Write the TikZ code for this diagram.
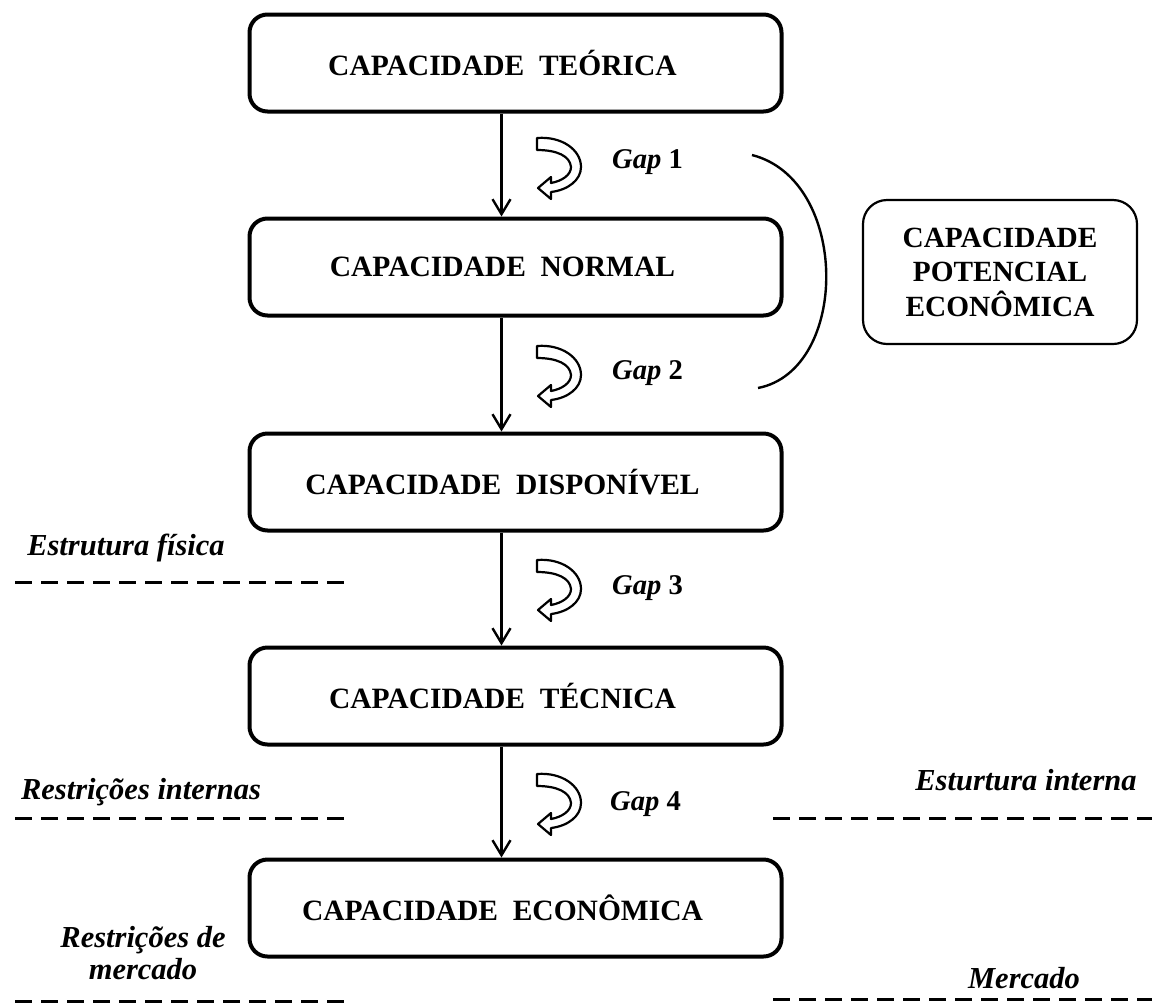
\documentclass[tikz,border=0pt]{standalone}
\usepackage{fontspec}
\setmainfont{Liberation Serif}
\usetikzlibrary{arrows.meta,calc}
\tikzset{
  capbox/.style={draw, line width=4pt, rounded corners=18pt, minimum width=532pt, minimum height=97pt, font=\bfseries\fontsize{29.5}{34}\selectfont, inner sep=0pt},
  potbox/.style={draw, line width=2.2pt, rounded corners=24pt, minimum width=274pt, minimum height=144pt, font=\bfseries\fontsize{29.3}{34.5}\selectfont, align=center, inner sep=0pt},
  flow/.style={line width=2.4pt, -{Straight Barb[length=15pt,width=18pt,line width=2.4pt]}},
  gaplbl/.style={font=\bfseries\fontsize{28.6}{32}\selectfont, anchor=west, inner sep=0pt},
  sidelbl/.style={font=\bfseries\itshape\fontsize{30.5}{32}\selectfont, inner sep=0pt},
  sep/.style={line width=3pt, dash pattern=on 17pt off 9pt},
  turn/.style={draw, line width=2.2pt, fill=white, line join=round}
}
\newcommand{\turnicon}[1]{%
  \begin{scope}[shift={#1}]
    \draw[turn] (0,0) .. controls (25,-2) and (44,12) .. (44,29)
      .. controls (44,42) and (31,52) .. (14,54) -- (14,61) -- (1,50) -- (14,39) -- (14,45)
      .. controls (25,43) and (34,37) .. (34,29)
      .. controls (33,18) and (20,12) .. (0,12) -- cycle;
  \end{scope}}
\newcommand{\boxtxtshift}{\kern26pt}
\begin{document}
\begin{tikzpicture}[x=1pt,y=-1pt]
\useasboundingbox (0,0) rectangle (1152,1005);
% main boxes
\node[capbox] (t1) at (515.5,63) {CAPACIDADE\ \ TEÓRICA\boxtxtshift};
\node[capbox] (t2) at (515.5,267) {CAPACIDADE\ \ NORMAL\boxtxtshift};
\node[capbox] (t3) at (515.5,482) {CAPACIDADE\ \ DISPONÍVEL\boxtxtshift};
\node[capbox] (t4) at (515.5,696) {CAPACIDADE\ \ TÉCNICA\boxtxtshift};
\node[capbox] (t5) at (515.5,908) {CAPACIDADE\ \ ECONÔMICA\boxtxtshift};
% arrows
\draw[flow] ([xshift=-14pt]t1.south) -- ([xshift=-14pt]t2.north);
\draw[flow] ([xshift=-14pt]t2.south) -- ([xshift=-14pt]t3.north);
\draw[flow] ([xshift=-14pt]t3.south) -- ([xshift=-14pt]t4.north);
\draw[flow] ([xshift=-14pt]t4.south) -- ([xshift=-14pt]t5.north);
% turn icons
\turnicon{(537,138)}
\turnicon{(537,346)}
\turnicon{(537,560)}
\turnicon{(537,774)}
% gap labels
\node[gaplbl] (g1) at (612,162) {\textit{Gap} 1};
\node[gaplbl] (g2) at (612,373) {\textit{Gap} 2};
\node[gaplbl] (g3) at (612,588) {\textit{Gap} 3};
\node[gaplbl] (g4) at (610,804) {\textit{Gap} 4};
% bracket and potential box
\coordinate (b1) at (752,155);
\coordinate (b2) at (758,388);
\draw[line width=2.4pt] (b1) .. controls (850,180) and (850,370) .. (b2);
\node[potbox] (pot) at (1000,272) {CAPACIDADE\\POTENCIAL\\ECONÔMICA};
% side labels
\node[sidelbl] (l1) at (126,548) {Estrutura física};
\node[sidelbl] (l2) at (141,792) {Restrições internas};
\node[sidelbl, align=center] (l3) at (143,953) {Restrições de\\mercado};
\node[sidelbl] (r1) at (1026,780) {Esturtura interna};
\node[sidelbl] (r2) at (1024,978) {Mercado};
% dashed separators
\draw[sep] (15,582) -- (350,582);
\draw[sep] (15,818) -- (350,818);
\draw[sep] (15,1001) -- (350,1001);
\draw[sep] (773,818) -- (1152,818);
\draw[sep] (773,999) -- (1152,999);
\end{tikzpicture}
\end{document}
